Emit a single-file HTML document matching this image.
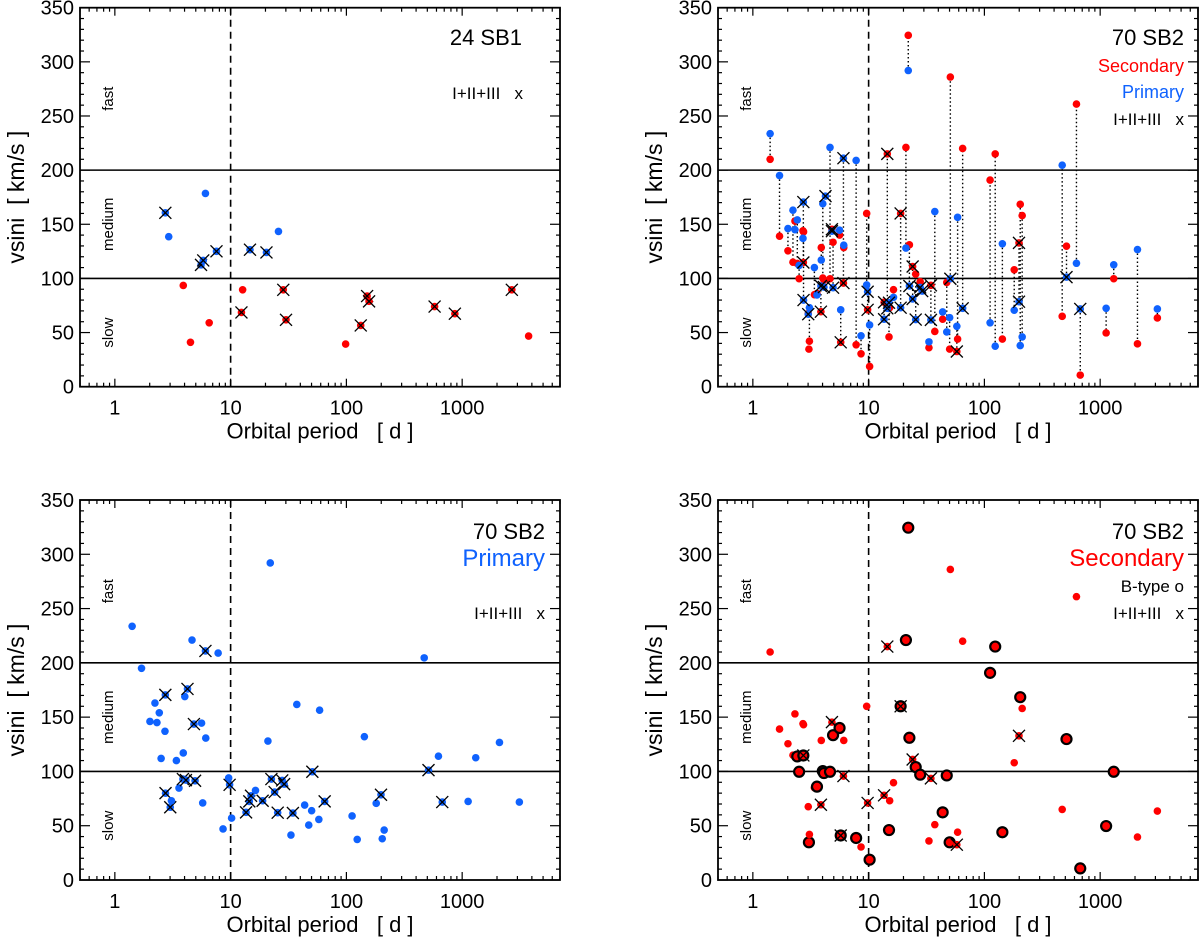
<!DOCTYPE html>
<html><head><meta charset="utf-8">
<style>
html,body{margin:0;padding:0;background:#fff;}
svg{display:block;font-family:"Liberation Sans",Arial,sans-serif;}
text{white-space:pre;}
</style></head>
<body>
<svg id="chart" width="1200" height="941" viewBox="0 0 1200 941" xmlns="http://www.w3.org/2000/svg"></svg>
<script>
// SB1 data
const sb1Period=[2.73,2.92,6.06,5.55,5.8,7.55,14.7,20.4,25.9,3.90,4.50,6.53,12.4,12.7,28.5,30.1,98.5,133,151,157,578,865,2685,3750];
const sb1V=[160.6,138.5,178.5,112.5,116.6,125,126.5,124,143.4,93.5,41,59,68.6,89.5,89.5,61.8,39.4,56.6,83.7,78.8,74,67.4,89.5,46.8];
const sb1LC=[1,0,0,1,1,1,1,1,0,0,0,0,1,0,1,1,0,1,1,1,1,1,1,0];
// SB2 data (one entry per system)
const sb2Period=[1.41,1.70,2.01,2.22,2.31,2.42,2.51,2.71,2.73,2.74,3.01,3.05,3.08,3.40,3.58,3.87,3.90,4.02,4.11,4.24,4.64,4.82,4.93,5.61,5.74,6.06,6.1,7.8,8.6,9.62,9.8,10.2,13.6,14.5,15,15.2,16.4,18.9,21,22,22.5,24,25.5,27.9,29,33.2,34.5,37.3,43.6,47.3,50.1,50.8,57.8,58.7,64.9,112,124,143,181,199,204,212,470,512,624,673,1126,1310,2100,3120];
const sb2VPri=[233.7,195,146,163,145,154,112,137,170.5,80,67,null,73,110,84.7,93,117,169,92,176,221,143.6,91.4,144.5,71,211,130.7,209,47,94,87.7,57,62.3,72.4,77.6,null,82.5,73,128,292,93,81,62,91.7,88.3,41.4,61.7,161.7,69,50.6,63.8,99.7,55.8,156.4,72.4,59,37.4,132,70.6,78.5,38,46,204.6,101.2,114,71.8,72.4,112.6,126.7,71.8];
const sb2VSec=[210,139,125.5,115,153,113.8,99.7,144,114.7,143,67.5,34.7,42,85,86,69.3,128.5,100.3,98.5,null,99.7,145.4,133.4,140,41,95.7,128.5,38.7,30.4,160,71,18.7,78,215,46,73,89.6,160,221,324.5,131,111,104,97,null,36,93.6,51,62.3,96.3,34.7,286,32.5,44,220,190.8,215,44,108,132.8,168.4,158,65,129.8,261,10.7,49.7,99.7,39.6,63.5];
const sb2PriLC=[0,0,0,0,0,0,0,0,1,1,1,0,0,0,0,1,0,0,1,1,0,1,1,0,0,1,0,0,0,0,1,0,1,1,1,0,0,1,0,0,1,1,1,1,1,0,1,0,0,0,0,1,0,0,1,0,0,0,0,1,0,0,0,1,0,1,0,0,0,0];
const sb2SecLC=[0,0,0,0,0,0,0,0,1,0,0,0,0,0,0,1,0,0,0,0,0,1,0,0,1,1,0,0,0,0,1,0,1,1,0,0,0,1,0,0,0,1,0,0,0,0,1,0,0,0,0,0,1,0,0,0,0,0,0,1,0,0,0,0,0,0,0,0,0,0];
const sb2SecB=[0,0,0,0,0,1,1,0,1,0,0,1,0,0,1,0,0,1,1,0,1,0,1,1,1,0,0,1,0,0,0,1,0,0,1,0,0,1,1,1,1,0,1,1,0,0,0,0,1,1,1,0,0,0,0,1,1,1,0,0,1,0,0,1,0,1,1,1,0,0];
const yTickLabels=[0,50,100,150,200,250,300,350];
const xTickLabels=[1,10,100,1000];

const NS="http://www.w3.org/2000/svg";
const svg=document.getElementById('chart');
const BLUE="#0f62fe", RED="#ff0000";
function mk(tag,attrs,parent){const e=document.createElementNS(NS,tag);for(const k in attrs)e.setAttribute(k,attrs[k]);(parent||svg).appendChild(e);return e;}
function txt(parent,x,y,s,size,anchor,fill,rot){const t=mk('text',{x:x,y:y,'font-size':size,'text-anchor':anchor||'start',fill:fill||'#000'},parent);if(rot)t.setAttribute('transform','rotate(-90 '+x+' '+y+')');t.textContent=s;return t;}

const XMIN=Math.log10(0.5), XMAX=Math.log10(7000);
function panel(name,x0,x1,y0,y1){
  const g=mk('g',{});
  
  
  const sx=p=>x0+(Math.log10(p)-XMIN)/(XMAX-XMIN)*(x1-x0);
  const sy=v=>y1-v/350*(y1-y0);
  const tg=mk('g',{stroke:'#000','stroke-width':1.2},g);
  
  
  for(let v=0;v<=350;v+=10){const L=(v%50===0)?10:4;const y=sy(v);
    mk('line',{x1:x0,y1:y,x2:x0+L,y2:y},tg);mk('line',{x1:x1,y1:y,x2:x1-L,y2:y},tg);}
  for(let d=-1;d<=3;d++){for(let m=1;m<=9;m++){const p=m*Math.pow(10,d);if(p<0.5||p>7000)continue;const x=sx(p);const L=m===1?8:4;
    mk('line',{x1:x,y1:y1,x2:x,y2:y1-L},tg);mk('line',{x1:x,y1:y0,x2:x,y2:y0+L},tg);}}
  yTickLabels.forEach(v=>{const t=txt(g,x0-6,sy(v)+7,String(v),20,'end');
    
    });
  xTickLabels.forEach(p=>{const t=txt(g,sx(p),y1+28,String(p),20,'middle');
    
    });
  mk('line',{x1:x0,x2:x1,y1:sy(100),y2:sy(100),stroke:'#000','stroke-width':1.6},g);
  mk('line',{x1:x0,x2:x1,y1:sy(200),y2:sy(200),stroke:'#000','stroke-width':1.6},g);
  const dl=mk('line',{x1:sx(10),x2:sx(10),y1:y0,y2:y1,stroke:'#000','stroke-width':1.6,'stroke-dasharray':'7,5'},g);
  
  const fr=mk('rect',{x:x0,y:y0,width:x1-x0,height:y1-y0,fill:'none',stroke:'#000','stroke-width':1.8},g);
  
  
  const cy=(y0+y1)/2;
  const yt=txt(g,x0-56,cy,'vsini  [ km/s ]',23,'middle','#000',true);
  
  
  const xt=txt(g,(x0+x1)/2,y1+52,'Orbital period   [ d ]',22,'middle');
  
  
  [['fast',266],['medium',150],['slow',50]].forEach(([s,v])=>{
    const t=txt(g,x0+33,sy(v),s,15,'middle','#000',true);
    
    });
  return {g,sx,sy,x0,x1,y0,y1};
}
function dot(parent,x,y,color,name){const c=mk('circle',{cx:x,cy:y,r:3.8,fill:color},parent);
  
  return c;}
function ring(parent,x,y){const c=mk('circle',{cx:x,cy:y,r:5,fill:RED,stroke:'#000','stroke-width':2.2},parent);
  
  }
function cross(parent,x,y){const g=mk('g',{stroke:'#000','stroke-width':1.3},parent);
  
  
  mk('line',{x1:x-6,y1:y-6,x2:x+6,y2:y+6},g);mk('line',{x1:x-6,y1:y+6,x2:x+6,y2:y-6},g);}
function legend(g,x,y,s,size,fill,name){const t=txt(g,x,y,s,size,'end',fill);
  
  }

const P1=panel('panel-sb1',80,560,7.7,386.7);
sb1Period.forEach((p,i)=>{const x=P1.sx(p),y=P1.sy(sb1V[i]);dot(P1.g,x,y,sb1V[i]>100?BLUE:RED,'sb1-point');if(sb1LC[i])cross(P1.g,x,y);});
legend(P1.g,522,45,'24 SB1',22,'#000','legend-title');
legend(P1.g,523,99,'I+II+III   x',17,'#000','legend-lum-class');

const P2=panel('panel-sb2-both',718,1198,7.7,386.7);
sb2Period.forEach((p,i)=>{if(sb2VPri[i]==null||sb2VSec[i]==null)return;const x=P2.sx(p);
  const l=mk('line',{x1:x,x2:x,y1:P2.sy(sb2VPri[i]),y2:P2.sy(sb2VSec[i]),stroke:'#000','stroke-width':1.4,'stroke-dasharray':'1.5,2.5'},P2.g);
  
  });
sb2Period.forEach((p,i)=>{if(sb2VSec[i]!=null)dot(P2.g,P2.sx(p),P2.sy(sb2VSec[i]),RED,'secondary-point');});
sb2Period.forEach((p,i)=>{if(sb2VPri[i]!=null)dot(P2.g,P2.sx(p),P2.sy(sb2VPri[i]),BLUE,'primary-point');});
sb2Period.forEach((p,i)=>{if(sb2VSec[i]!=null&&sb2SecLC[i])cross(P2.g,P2.sx(p),P2.sy(sb2VSec[i]));if(sb2VPri[i]!=null&&sb2PriLC[i])cross(P2.g,P2.sx(p),P2.sy(sb2VPri[i]));});
legend(P2.g,1184,45,'70 SB2',22,'#000','legend-title');
legend(P2.g,1184,72,'Secondary',18,RED,'legend-secondary');
legend(P2.g,1184,98,'Primary',18,BLUE,'legend-primary');
legend(P2.g,1184,125,'I+II+III   x',17,'#000','legend-lum-class');

const P3=panel('panel-sb2-primary',80,560,500,880);
sb2Period.forEach((p,i)=>{if(sb2VPri[i]==null)return;const x=P3.sx(p),y=P3.sy(sb2VPri[i]);dot(P3.g,x,y,BLUE,'primary-point');if(sb2PriLC[i])cross(P3.g,x,y);});
legend(P3.g,545,539,'70 SB2',22,'#000','legend-title');
legend(P3.g,545,566,'Primary',24,BLUE,'legend-primary');
legend(P3.g,545,619,'I+II+III   x',17,'#000','legend-lum-class');

const P4=panel('panel-sb2-secondary',718,1198,500,880);
sb2Period.forEach((p,i)=>{if(sb2VSec[i]==null)return;const x=P4.sx(p),y=P4.sy(sb2VSec[i]);if(sb2SecB[i])ring(P4.g,x,y);else dot(P4.g,x,y,RED,'secondary-point');if(sb2SecLC[i])cross(P4.g,x,y);});
legend(P4.g,1184,539,'70 SB2',22,'#000','legend-title');
legend(P4.g,1184,566,'Secondary',24,RED,'legend-secondary');
legend(P4.g,1184,592,'B-type o',17,'#000','legend-b-type');
legend(P4.g,1184,619,'I+II+III   x',17,'#000','legend-lum-class');
</script>
</body></html>
